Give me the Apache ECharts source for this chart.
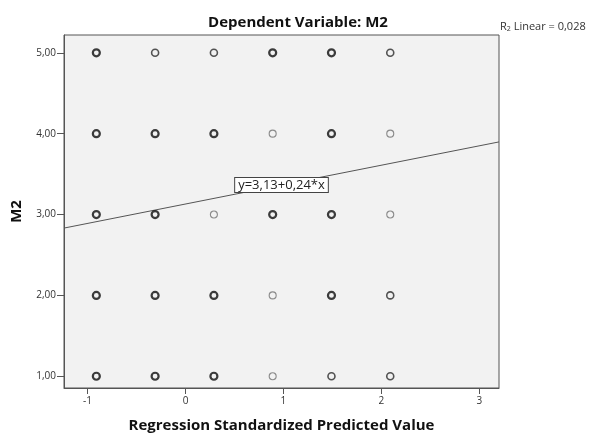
<!DOCTYPE html>
<html>
<head>
<meta charset="utf-8">
<script src="https://cdn.jsdelivr.net/npm/echarts@6/dist/echarts.min.js"></script>
<style>
  html, body { margin: 0; padding: 0; background: #ffffff; }
  #chart { width: 589px; height: 435px; }
</style>
</head>
<body>
<div id="chart"></div>
<script>
// Standardized predicted values (columns) and observed M2 scores (rows)
const predictedValues = [-0.91, -0.31, 0.29, 0.89, 1.49, 2.09];
const m2Levels = [5, 4, 3, 2, 1];
// Relative number of overlapping cases at each (column, level): 0 few, 1 some, 2 many
const caseDensity = [
  [2, 1, 1, 2, 2, 1], // M2 = 5
  [2, 2, 2, 0, 2, 0], // M2 = 4
  [2, 2, 0, 2, 2, 0], // M2 = 3
  [2, 2, 2, 0, 2, 1], // M2 = 2
  [2, 2, 2, 0, 1, 1]  // M2 = 1
];
const xTicks = [-1, 0, 1, 2, 3];
const yTicks = [1, 2, 3, 4, 5];
const fitIntercept = 3.13;
const fitSlope = 0.24;
const rSquared = 0.028;

const xMin = -1.24, xMax = 3.2;
const yMin = 0.855, yMax = 5.22;

const comma = (v, d) => v.toFixed(d).replace('.', ',');

const densityStyle = [
  { borderColor: '#707070', borderWidth: 1.1 },
  { borderColor: '#2a2a2a', borderWidth: 1.6 },
  { borderColor: '#0d0d0d', borderWidth: 2.2 }
];

const points = [];
m2Levels.forEach((level, r) => {
  predictedValues.forEach((x, c) => {
    const d = caseDensity[r][c];
    points.push({
      value: [x, level, d],
      itemStyle: { borderColor: densityStyle[d].borderColor, borderWidth: densityStyle[d].borderWidth }
    });
  });
});

const fitAt = x => fitIntercept + fitSlope * x;
const fitLine = [[xMin, fitAt(xMin)], [xMax, fitAt(xMax)]];
const eqX = 0.98;

const font = 'Open Sans';
const chart = echarts.init(document.getElementById('chart'));
chart.setOption({
  animation: false,
  backgroundColor: '#ffffff',
  title: {
    text: 'Dependent Variable: M2',
    left: 293, top: 10, textAlign: 'center',
    textStyle: { fontFamily: font, fontWeight: 'bold', fontSize: 15, color: '#111' }
  },
  grid: {
    left: 64, right: 90, top: 35, bottom: 47,
    outerBoundsMode: 'none', containLabel: false,
    show: true, backgroundColor: '#f2f2f2', borderColor: '#555', borderWidth: 1
  },
  xAxis: {
    type: 'value', min: xMin, max: xMax,
    name: 'Regression Standardized Predicted Value',
    nameLocation: 'middle', nameGap: 30,
    nameTextStyle: { fontFamily: font, fontWeight: 'bold', fontSize: 15, color: '#111' },
    splitLine: { show: false },
    axisLine: { show: true, onZero: false, lineStyle: { color: '#555' } },
    axisTick: { show: true, inside: false, customValues: xTicks, length: 6, lineStyle: { color: '#555' } },
    axisLabel: { customValues: xTicks, fontFamily: font, fontSize: 10, color: '#333', margin: 8,
      formatter: v => String(v) }
  },
  yAxis: {
    type: 'value', min: yMin, max: yMax,
    name: 'M2', nameLocation: 'middle', nameGap: 40, nameRotate: 90,
    nameTextStyle: { fontFamily: font, fontWeight: 'bold', fontSize: 15, color: '#111' },
    splitLine: { show: false },
    axisLine: { show: true, onZero: false, lineStyle: { color: '#555' } },
    axisTick: { show: true, inside: false, customValues: yTicks, length: 7, lineStyle: { color: '#555' } },
    axisLabel: { customValues: yTicks, fontFamily: font, fontSize: 10, color: '#333', margin: 8,
      formatter: v => comma(v, 2) }
  },
  graphic: [{
    type: 'text', left: 500, top: 21,
    style: {
      text: '{r|R}{s|2}{t| Linear = ' + comma(rSquared, 3) + '}',
      rich: {
        r: { fontFamily: font, fontSize: 11, fill: '#333' },
        s: { fontFamily: font, fontSize: 7, fill: '#333', verticalAlign: 'bottom' },
        t: { fontFamily: font, fontSize: 11, fill: '#333' }
      }
    }
  }],
  series: [
    {
      type: 'line', data: fitLine, symbol: 'none', z: 1,
      lineStyle: { color: '#555', width: 1 },
      markPoint: {
        symbol: 'rect', symbolSize: 0,
        data: [{ coord: [eqX, fitAt(eqX)] }],
        label: {
          show: true, position: 'inside',
          formatter: 'y=' + comma(fitIntercept, 2) + '+' + comma(fitSlope, 2) + '*x',
          fontFamily: font, fontSize: 13, color: '#222',
          backgroundColor: '#ffffff', borderColor: '#444', borderWidth: 1,
          padding: [1, 3, 0, 3]
        }
      }
    },
    {
      type: 'scatter', data: points, symbol: 'circle', symbolSize: 7, z: 2,
      itemStyle: { color: 'rgba(0,0,0,0)' }
    }
  ]
});
</script>
</body>
</html>
